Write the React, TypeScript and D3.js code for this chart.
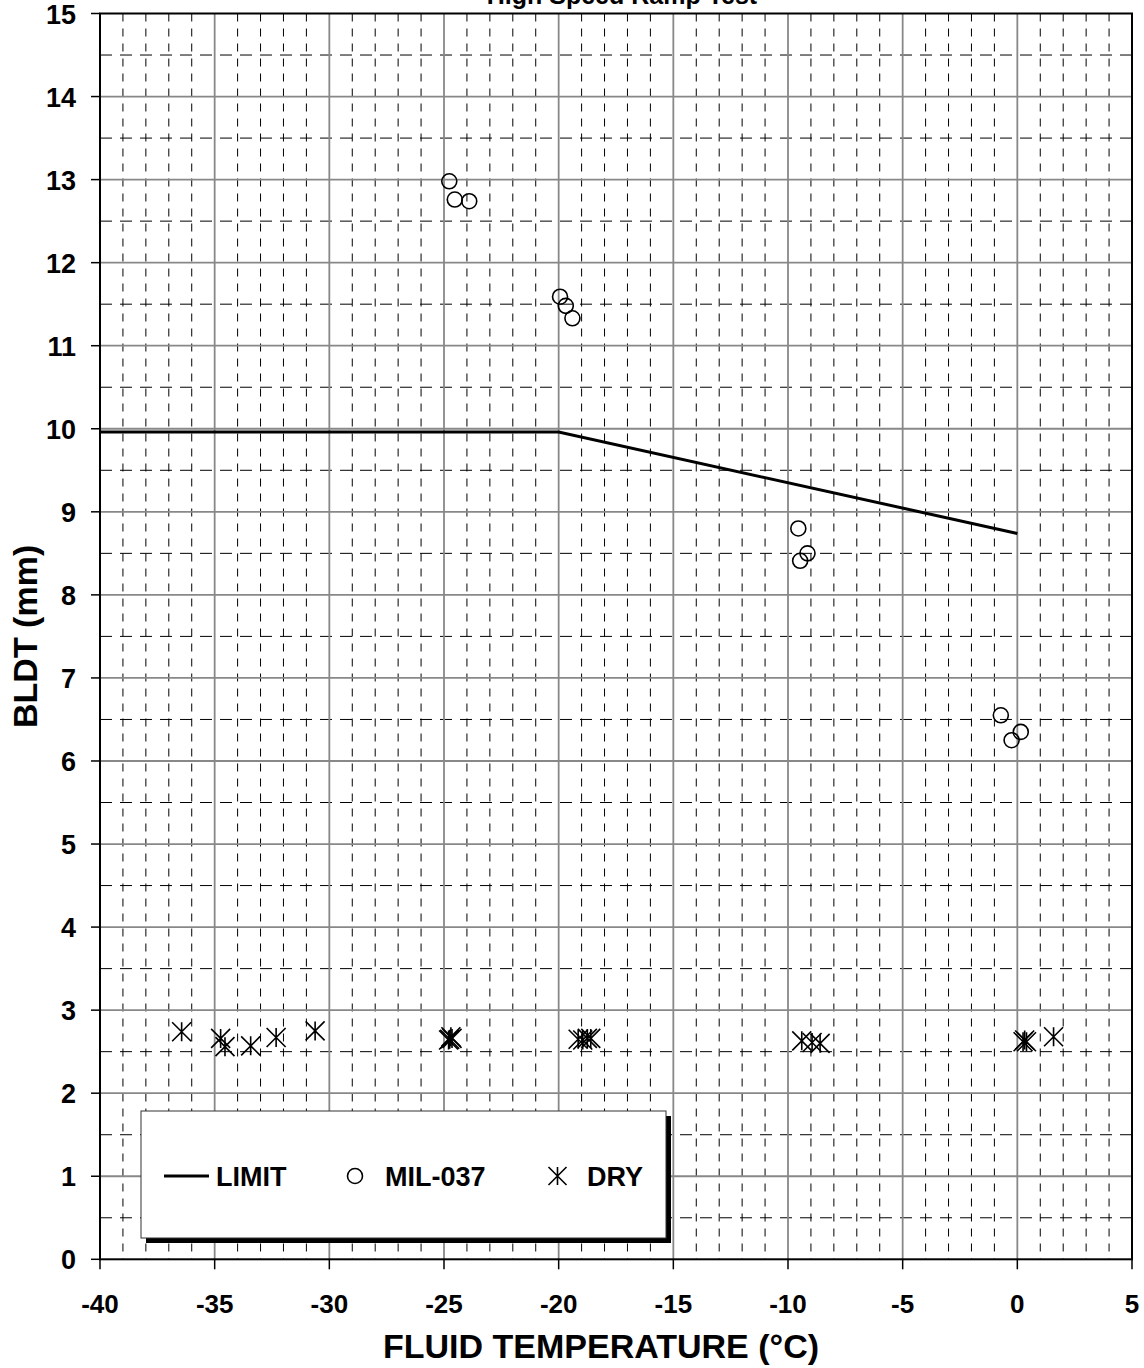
import { useEffect, useRef } from "react"
import * as d3 from "d3"

// limit line
const limitTemps = [-40, -20, 0]
const limitBldt = [9.96, 9.96, 8.74]

// MIL-037 fluid points
const milTemps = [-24.77, -24.53, -23.9, -19.94, -19.69, -19.4, -9.55, -9.15, -9.47, -0.72, 0.15, -0.25]
const milBldt = [12.98, 12.76, 12.74, 11.59, 11.48, 11.33, 8.8, 8.5, 8.41, 6.55, 6.35, 6.25]

// dry runs
const dryTemps = [-36.44, -34.74, -34.55, -33.43, -32.32, -30.62, -24.8, -24.7, -24.65, -24.75, -19.15, -18.95, -18.75, -18.6, -9.4, -8.95, -8.6, 0.25, 0.32, 0.4, 1.58]
const dryBldt = [2.74, 2.66, 2.56, 2.57, 2.67, 2.75, 2.64, 2.68, 2.66, 2.65, 2.65, 2.64, 2.66, 2.66, 2.63, 2.61, 2.6, 2.62, 2.64, 2.62, 2.68]

const xTicks = [-40, -35, -30, -25, -20, -15, -10, -5, 0, 5]
const yTicks = [0, 1, 2, 3, 4, 5, 6, 7, 8, 9, 10, 11, 12, 13, 14, 15]

const legendItems = ["LIMIT", "MIL-037", "DRY"]

const font = "Liberation Sans, Arial, sans-serif"

function star(g: d3.Selection<SVGGElement, unknown, null, undefined>, cx: number, cy: number, r: number) {
  const p = `M${cx - r},${cy - r}L${cx + r},${cy + r}M${cx + r},${cy - r}L${cx - r},${cy + r}M${cx},${cy - r}L${cx},${cy + r}`
  g.append("path").attr("d", p).attr("stroke", "#000").attr("stroke-width", 1.6).attr("fill", "none")
}

export default function App() {
  const ref = useRef<SVGSVGElement | null>(null)

  useEffect(() => {
    const svg = d3.select(ref.current)
    svg.selectAll("*").remove()

    const left = 100, right = 1132, top = 13.5, bottom = 1259.3

    const x = d3.scaleLinear().domain([-40, 5]).range([left, right])
    const y = d3.scaleLinear().domain([0, 15]).range([bottom, top])

    const g = svg.append("g")

    // minor dashed grid
    const minorX = d3.range(-39, 5, 1).filter(v => v % 5 !== 0)
    const minorY = d3.range(0.5, 15, 1)
    g.selectAll(".mx").data(minorX).enter().append("line")
      .attr("x1", d => x(d)).attr("x2", d => x(d))
      .attr("y1", top).attr("y2", bottom)
      .attr("stroke", "#000").attr("stroke-width", 1).attr("stroke-dasharray", "8,7")
    g.selectAll(".my").data(minorY).enter().append("line")
      .attr("x1", left).attr("x2", right)
      .attr("y1", d => y(d)).attr("y2", d => y(d))
      .attr("stroke", "#000").attr("stroke-width", 1).attr("stroke-dasharray", "12,8")

    // major gray grid
    g.selectAll(".gx").data(xTicks.slice(1, -1)).enter().append("line")
      .attr("x1", d => x(d)).attr("x2", d => x(d))
      .attr("y1", top).attr("y2", bottom)
      .attr("stroke", "#888").attr("stroke-width", 1.8)
    g.selectAll(".gy").data(yTicks.slice(1, -1)).enter().append("line")
      .attr("x1", left).attr("x2", right)
      .attr("y1", d => y(d)).attr("y2", d => y(d))
      .attr("stroke", "#888").attr("stroke-width", 1.8)

    // frame
    g.append("rect").attr("x", left).attr("y", top)
      .attr("width", right - left).attr("height", bottom - top)
      .attr("fill", "none").attr("stroke", "#000").attr("stroke-width", 2)

    // ticks
    g.selectAll(".ty").data(yTicks).enter().append("line")
      .attr("x1", left - 9).attr("x2", left)
      .attr("y1", d => y(d)).attr("y2", d => y(d))
      .attr("stroke", "#000").attr("stroke-width", 1.5)
    g.selectAll(".tx").data(xTicks).enter().append("line")
      .attr("x1", d => x(d)).attr("x2", d => x(d))
      .attr("y1", bottom).attr("y2", bottom + 10)
      .attr("stroke", "#000").attr("stroke-width", 1.5)

    // tick labels
    g.selectAll(".ly").data(yTicks).enter().append("text")
      .attr("x", 76).attr("y", d => y(d) + 10)
      .attr("text-anchor", "end")
      .attr("font-family", font).attr("font-weight", "bold").attr("font-size", 27)
      .text(d => d)
    g.selectAll(".lx").data(xTicks).enter().append("text")
      .attr("x", d => x(d)).attr("y", bottom + 54)
      .attr("text-anchor", "middle")
      .attr("font-family", font).attr("font-weight", "bold").attr("font-size", 26)
      .text(d => d)

    // axis titles
    g.append("text").attr("x", 601).attr("y", 1358)
      .attr("text-anchor", "middle")
      .attr("font-family", font).attr("font-weight", "bold").attr("font-size", 34)
      .text("FLUID TEMPERATURE (°C)")
    g.append("text")
      .attr("transform", `translate(37,${(top + bottom) / 2}) rotate(-90)`)
      .attr("text-anchor", "middle")
      .attr("font-family", font).attr("font-weight", "bold").attr("font-size", 34)
      .text("BLDT (mm)")

    // title (clipped at the top)
    g.append("text").attr("x", 622).attr("y", 4)
      .attr("text-anchor", "middle")
      .attr("font-family", font).attr("font-weight", "bold").attr("font-size", 25)
      .text("High Speed Ramp Test")

    // limit line
    const line = d3.line<number>().x((d, i) => x(limitTemps[i])).y(d => y(d))
    g.append("path").attr("d", line(limitBldt))
      .attr("fill", "none").attr("stroke", "#000").attr("stroke-width", 3)

    // MIL-037 circles
    g.selectAll(".mil").data(milBldt).enter().append("circle")
      .attr("cx", (d, i) => x(milTemps[i])).attr("cy", d => y(d))
      .attr("r", 7.5).attr("fill", "none").attr("stroke", "#000").attr("stroke-width", 1.6)

    // dry stars
    dryBldt.forEach((v, i) => star(g, x(dryTemps[i]), y(v), 9.5))

    // legend
    const lg = svg.append("g")
    lg.append("rect").attr("x", 146).attr("y", 1116).attr("width", 525).attr("height", 127).attr("fill", "#000")
    lg.append("rect").attr("x", 141).attr("y", 1111).attr("width", 525).attr("height", 127)
      .attr("fill", "#fff").attr("stroke", "#333").attr("stroke-width", 1)
    const ly = 1176
    lg.append("line").attr("x1", 164).attr("x2", 209).attr("y1", ly).attr("y2", ly)
      .attr("stroke", "#000").attr("stroke-width", 3)
    lg.append("circle").attr("cx", 355).attr("cy", ly).attr("r", 7.5)
      .attr("fill", "none").attr("stroke", "#000").attr("stroke-width", 1.6)
    star(lg, 557.5, ly, 9)
    const textX = [216, 385, 587]
    lg.selectAll(".lt").data(legendItems).enter().append("text")
      .attr("x", (d, i) => textX[i]).attr("y", ly + 10)
      .attr("font-family", font).attr("font-weight", "bold").attr("font-size", 27)
      .text(d => d)
  }, [])

  return <svg ref={ref} width={1144} height={1368} style={{ position: "absolute", left: 0, top: 0 }} />
}
